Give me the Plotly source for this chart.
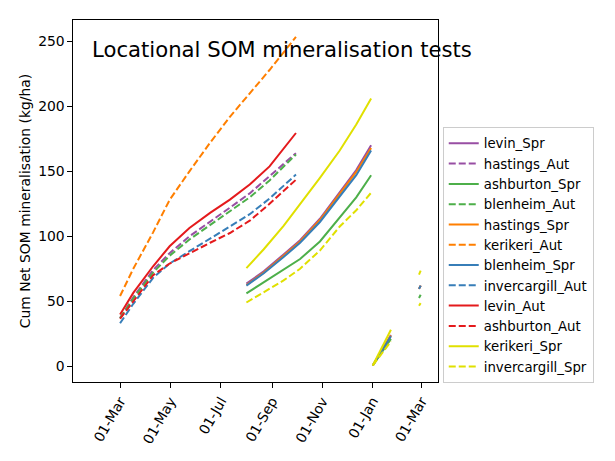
import plotly.graph_objects as go

# autumn tests: sampled dates and cumulative values (kg/ha)
aut_dates = ["2022-03-01", "2022-03-17", "2022-04-10", "2022-04-30", "2022-05-24",
             "2022-06-18", "2022-07-12", "2022-08-05", "2022-08-29", "2022-09-30"]

hastings_Aut = [37, 53, 74, 87, 100, 111, 122, 133, 146, 164]
blenheim_Aut = [37, 52, 72, 85, 97.5, 108.5, 119, 130, 143, 163]
kerikeri_Aut = [54, 75, 103, 128, 150, 172, 192, 210, 228, 253.5]
invercargill_Aut = [33, 48, 68, 79, 88.5, 98, 107.5, 117, 129, 147.5]
levin_Aut = [39.8, 56.4, 76.9, 92.3, 106.4, 118, 128.2, 139.8, 153.8, 179.5]
ashburton_Aut = [36.5, 50, 70, 79, 87, 95, 102.5, 112, 125, 143.5]

# spring tests: main run, then a restart in Jan, then a last stub near 01-Mar (None = gap)
spr_dates = ["2022-08-01", "2022-08-22", "2022-09-15", "2022-10-05", "2022-10-29",
             "2022-11-22", "2022-12-12", "2022-12-30", None,
             "2023-01-01", "2023-01-23", None,
             "2023-02-26", "2023-02-28"]

levin_Spr = [63.5, 73, 86, 97, 113.5, 134, 151, 170, None, 0.5, 24, None, 59.5, 62]
ashburton_Spr = [56, 64.5, 74, 82.5, 96, 115, 130, 147, None, 0.5, 21, None, 52.5, 55]
hastings_Spr = [62.5, 72, 85, 96, 112.5, 133, 149.5, 168, None, 0.5, 23.5, None, 59.5, 62]
blenheim_Spr = [62, 71.5, 84, 95, 111, 131, 147, 166, None, 0.5, 23, None, 59.5, 62]
kerikeri_Spr = [75.5, 90, 108, 124.5, 145, 166, 186, 206, None, 0.5, 28, None, 70.5, 73.5]
invercargill_Spr = [49, 57, 66, 75, 89, 107.5, 120, 133.5, None, 0.5, 19, None, 46.5, 48.5]

# legend order as in the original
series = [
    ("levin_Spr", spr_dates, levin_Spr, "#984ea3", "solid"),
    ("hastings_Aut", aut_dates, hastings_Aut, "#984ea3", "dash"),
    ("ashburton_Spr", spr_dates, ashburton_Spr, "#4daf4a", "solid"),
    ("blenheim_Aut", aut_dates, blenheim_Aut, "#4daf4a", "dash"),
    ("hastings_Spr", spr_dates, hastings_Spr, "#ff7f00", "solid"),
    ("kerikeri_Aut", aut_dates, kerikeri_Aut, "#ff7f00", "dash"),
    ("blenheim_Spr", spr_dates, blenheim_Spr, "#377eb8", "solid"),
    ("invercargill_Aut", aut_dates, invercargill_Aut, "#377eb8", "dash"),
    ("levin_Aut", aut_dates, levin_Aut, "#e41a1c", "solid"),
    ("ashburton_Aut", aut_dates, ashburton_Aut, "#e41a1c", "dash"),
    ("kerikeri_Spr", spr_dates, kerikeri_Spr, "#e0e000", "solid"),
    ("invercargill_Spr", spr_dates, invercargill_Spr, "#e0e000", "dash"),
]

tick_dates = ["2022-03-01", "2022-05-01", "2022-07-01", "2022-09-01",
              "2022-11-01", "2023-01-01", "2023-03-01"]

FONT = "DejaVu Sans"

fig = go.Figure()
for name, xs, ys, col, style in series:
    dash = "solid" if style == "solid" else "7px,3px"
    fig.add_trace(go.Scatter(x=xs, y=ys, name=name, mode="lines",
                             line=dict(color=col, width=2, dash=dash),
                             legendgroup=name, connectgaps=False))

axis_style = dict(showline=True, linecolor="black", linewidth=1.1, mirror=True,
                  ticks="outside", ticklen=4.5, tickcolor="black", tickwidth=1.1,
                  showgrid=False, zeroline=False, automargin=False,
                  tickfont=dict(family=FONT, size=13.9, color="black"))

fig.update_xaxes(type="date", range=["2022-01-03", "2023-03-21"],
                 tickvals=tick_dates, tickformat="%d-%b", tickangle=-60, **axis_style)
fig.update_yaxes(range=[-12.2, 266.5], tickvals=[0, 50, 100, 150, 200, 250],
                 title=dict(text="Cum Net SOM mineralisation (kg/ha)",
                            font=dict(family=FONT, size=13.9, color="black"), standoff=4),
                 **axis_style)

fig.add_annotation(text="Locational SOM mineralisation tests", xref="paper", yref="paper",
                   x=0.046, y=0.918, xanchor="left", yanchor="middle", showarrow=False,
                   font=dict(family=FONT, size=21.2, color="black"))

# page body adds 8px offset, so margins are trimmed to keep the plot box in place
fig.update_layout(
    width=615, height=461,
    margin=dict(l=65, r=185, t=12, b=87),
    paper_bgcolor="white", plot_bgcolor="white",
    font=dict(family=FONT, size=13.9, color="black"),
    legend=dict(x=1.013, y=0.704, xanchor="left", yanchor="top",
                bordercolor="#cccccc", borderwidth=1, bgcolor="white",
                tracegroupgap=0, font=dict(family=FONT, size=13.3)),
)

fig.write_html("out.html")
